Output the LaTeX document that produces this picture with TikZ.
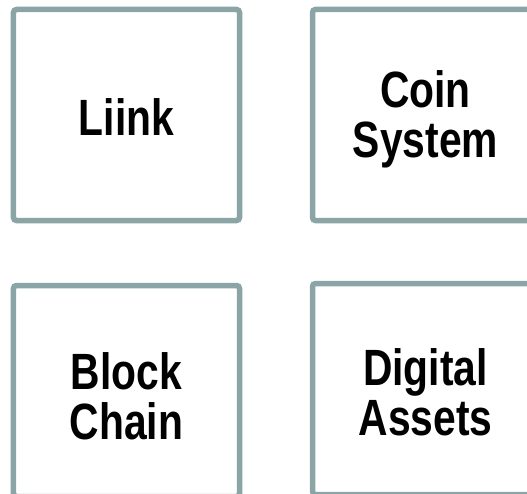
\documentclass[tikz,border=0pt]{standalone}
\usepackage{fontspec}
\setmainfont[FakeStretch=0.8]{Liberation Sans}
\definecolor{boxline}{HTML}{8BA4A6}
\begin{document}
\begin{tikzpicture}[x=1bp,y=-1bp,
  tile/.style={draw=boxline, line width=5.5bp, rounded corners=3bp,
    minimum width=226bp, minimum height=211bp, inner sep=0pt},
  lbl/.style={inner sep=0pt, align=center,
    font=\fontsize{51bp}{50bp}\selectfont\bfseries}]
\useasboundingbox (0,0) rectangle (527,494);
\node[tile] (liink) at (126.5,115) {};
\node[tile] (coin) at (425.5,115) {};
\node[tile] (block) at (126.5,391) {};
\node[tile] (digital) at (425.5,389) {};
\node[lbl] (liinkt) at ([yshift=-2bp]liink.center) {Liink};
\node[lbl] (coint) at ([yshift=-4bp]coin.center) {Coin\\System};
\node[lbl] (blockt) at ([yshift=-5bp]block.center) {Block\\Chain};
\node[lbl] (digitalt) at ([yshift=-3bp]digital.center) {Digital\\Assets};
\end{tikzpicture}
\end{document}
